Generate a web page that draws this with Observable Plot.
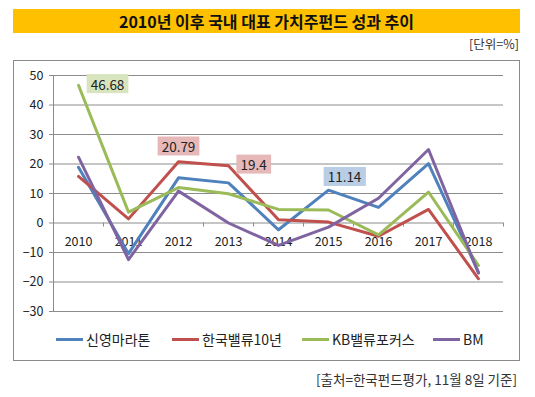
<!DOCTYPE html>
<html><head><meta charset="utf-8">
<script src="https://cdn.jsdelivr.net/npm/d3@7"></script>
<script src="https://cdn.jsdelivr.net/npm/@observablehq/plot@0.6"></script>
<style>
body{margin:0;background:#fff;font-family:"Noto Sans CJK KR","Noto Sans",sans-serif;}
#wrap{position:relative;width:535px;height:397px;overflow:hidden;background:#fff;}
#banner{position:absolute;left:13px;top:9px;width:507px;height:24px;background:#FFC000;display:flex;align-items:center;justify-content:center;font-weight:bold;font-size:16px;color:#111;line-height:24px;}
#unit{position:absolute;right:16px;top:36px;font-size:12.5px;color:#333;line-height:16px;}
#box{position:absolute;left:13px;top:60px;width:505px;height:299px;border:1px solid #8a8a8a;}
#chart{position:absolute;left:0;top:0;}
.leg{position:absolute;top:330px;font-size:14px;display:flex;align-items:center;height:18px;line-height:18px;color:#222;white-space:nowrap;}
.leg .sw{display:inline-block;width:27px;height:3px;margin-right:3px;}
#src{position:absolute;right:18px;top:371px;font-size:13.5px;color:#333;line-height:16px;white-space:nowrap;}
</style>
</head><body>
<div id="wrap">
  <div id="banner"></div>
  <div id="unit"></div>
  <div id="box"></div>
  <div id="chart"></div>
  <div id="legend"></div>
  <div id="src"></div>
</div>
<script>
// ---- data ----
const titleText = "2010년 이후 국내 대표 가치주펀드 성과 추이";
const unitText = "[단위=%]";
const sourceText = "[출처=한국펀드평가, 11월 8일 기준]";
const years = [2010, 2011, 2012, 2013, 2014, 2015, 2016, 2017, 2018];
const seriesNames = ["신영마라톤", "한국밸류10년", "KB밸류포커스", "BM"];
const shinyoung = [18.9, -10.4, 15.3, 13.6, -2.3, 11.14, 5.3, 20.1, -16.7];
const hankook   = [15.8, 1.4, 20.79, 19.4, 1.1, 0.3, -4.5, 4.6, -18.9];
const kbValue   = [46.68, 3.7, 12.0, 9.9, 4.6, 4.4, -4.0, 10.5, -14.4];
const bm        = [22.3, -12.4, 10.8, 0.0, -7.6, -1.4, 8.4, 24.9, -17.0];
const yTicks = [-30, -20, -10, 0, 10, 20, 30, 40, 50];
// data labels: series index, year
const labelSeries = [2, 1, 1, 0];
const labelYears  = [2010, 2012, 2013, 2015];

// ---- styles ----
const colors = ["#4F81BD", "#C0504D", "#9BBB59", "#8064A2"];
const labelBg = ["#B9CDE5", "#E6B9B8", "#D7E4BD", "#D9D1E5"];
const labelOffsets = [[29, 0], [0, -14], [25, 0], [16, -12]];
const font = '"Noto Sans CJK KR","Noto Sans",sans-serif';

const valuesBySeries = [shinyoung, hankook, kbValue, bm];
const data = seriesNames.flatMap((s, k) => years.map((y, i) => ({series: s, year: y, value: valuesBySeries[k][i]})));
const labels = labelSeries.map((k, j) => {
  const i = years.indexOf(labelYears[j]);
  return {series: seriesNames[k], k, year: labelYears[j], value: valuesBySeries[k][i]};
});

document.getElementById("banner").textContent = titleText;
document.getElementById("unit").textContent = unitText;
document.getElementById("src").textContent = sourceText;

const W = 535, H = 397, mL = 53, mR = 32, mT = 75, mB = 86;
const half = (W - mL - mR) / years.length / 2;

const marks = [
  Plot.ruleY(yTicks, {stroke: "#8c8c8c", strokeWidth: 1}),
  Plot.ruleX(years.slice(0, 1), {dx: -half, y1: yTicks[0], y2: yTicks[yTicks.length - 1], stroke: "#8c8c8c"}),
  Plot.ruleX(years, {dx: -half, y1: 0, y2: 0, insetBottom: -4, stroke: "#8c8c8c"}),
  Plot.ruleX(years.slice(-1), {dx: half, y1: 0, y2: 0, insetBottom: -4, stroke: "#8c8c8c"}),
  Plot.axisY(yTicks, {tickSize: 4, tickPadding: 6, stroke: "#8c8c8c", fill: "#222", fontSize: 12.5, label: null}),
  Plot.text(years, {x: d => d, y: 0, text: d => String(d), dy: 19, fill: "#222", fontSize: 12.5}),
  Plot.line(data, {x: "year", y: "value", z: "series", stroke: "series", strokeWidth: 3, strokeLinejoin: "round", strokeLinecap: "round"}),
  ...labels.map((d, j) => Plot.text([d], {x: "year", y: "value", text: e => String(e.value), dx: labelOffsets[j][0], dy: labelOffsets[j][1], fill: "#222", fontSize: 13.5}))
];

const chart = Plot.plot({
  width: W, height: H,
  marginLeft: mL, marginRight: mR, marginTop: mT, marginBottom: mB,
  style: {background: "transparent", fontFamily: font, fontSize: "12.5px", color: "#222"},
  x: {type: "point", domain: years, padding: 0.5, axis: null},
  y: {domain: [yTicks[0], yTicks[yTicks.length - 1]], axis: null, label: null},
  color: {domain: seriesNames, range: colors},
  marks
});
document.getElementById("chart").appendChild(chart);

// draw background boxes behind data labels
const labelTexts = labels.map(d => String(d.value));
chart.querySelectorAll("text").forEach(t => {
  const j = labelTexts.indexOf(t.textContent);
  if (j < 0) return;
  const k = labels[j].k;
  const b = t.getBBox();
  const tr = t.getAttribute("transform");
  const r = document.createElementNS("http://www.w3.org/2000/svg", "rect");
  r.setAttribute("x", b.x - 4);
  r.setAttribute("y", b.y + 0.5);
  r.setAttribute("width", b.width + 8);
  r.setAttribute("height", b.height - 1);
  r.setAttribute("fill", labelBg[k]);
  if (tr) r.setAttribute("transform", tr);
  t.parentNode.insertBefore(r, t);
});

// legend
const legendX = [56, 172, 302, 433];
const legend = document.getElementById("legend");
seriesNames.forEach((s, k) => {
  const it = document.createElement("div");
  it.className = "leg";
  it.style.left = legendX[k] + "px";
  it.innerHTML = `<span class="sw" style="background:${colors[k]}"></span><span>${s}</span>`;
  legend.appendChild(it);
});
</script>
</body></html>
